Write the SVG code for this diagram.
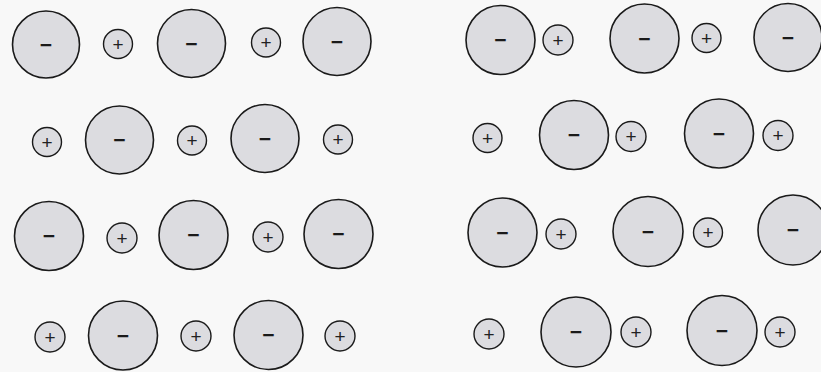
<svg xmlns="http://www.w3.org/2000/svg" width="821" height="372" viewBox="0 0 821 372">
<style>
.bg{fill:#f8f8f8}
.an circle{fill:#dcdce0;stroke:#1a1a1a;stroke-width:1.6}
.ca circle{fill:#dcdce0;stroke:#1a1a1a;stroke-width:1.4}
.an text{font-family:"Liberation Sans",Arial,sans-serif;font-size:21px;font-weight:bold;fill:#1a1a1a;text-anchor:middle}
.ca text{font-family:"Liberation Sans",Arial,sans-serif;font-size:19px;fill:#222;text-anchor:middle}
</style>
<rect class="bg" x="0" y="0" width="821" height="372"/>
<!-- Left lattice -->
<g id="a1" class="an"><circle cx="46" cy="44.5" r="33.5"/><text x="46" y="51.5">−</text></g>
<g id="c1" class="ca"><circle cx="118" cy="44" r="14.5"/><text x="118" y="50.5">+</text></g>
<g id="a2" class="an"><circle cx="191.5" cy="43.5" r="34"/><text x="191.5" y="50.5">−</text></g>
<g id="c2" class="ca"><circle cx="266" cy="42.5" r="14.5"/><text x="266" y="49">+</text></g>
<g id="a3" class="an"><circle cx="337" cy="41.5" r="34"/><text x="337" y="48.5">−</text></g>

<g id="c3" class="ca"><circle cx="47" cy="142" r="14.5"/><text x="47" y="148.5">+</text></g>
<g id="a4" class="an"><circle cx="119.5" cy="140" r="34"/><text x="119.5" y="147">−</text></g>
<g id="c4" class="ca"><circle cx="192" cy="140.5" r="14.5"/><text x="192" y="147">+</text></g>
<g id="a5" class="an"><circle cx="265" cy="138.5" r="34"/><text x="265" y="145.5">−</text></g>
<g id="c5" class="ca"><circle cx="338" cy="139.5" r="14.5"/><text x="338" y="146">+</text></g>

<g id="a6" class="an"><circle cx="49" cy="236" r="34.5"/><text x="49" y="243">−</text></g>
<g id="c6" class="ca"><circle cx="122" cy="238" r="15"/><text x="122" y="244.5">+</text></g>
<g id="a7" class="an"><circle cx="193.5" cy="235" r="34.5"/><text x="193.5" y="242">−</text></g>
<g id="c7" class="ca"><circle cx="268" cy="237" r="15"/><text x="268" y="243.5">+</text></g>
<g id="a8" class="an"><circle cx="338.5" cy="234" r="34.5"/><text x="338.5" y="241">−</text></g>

<g id="c8" class="ca"><circle cx="50" cy="337" r="15"/><text x="50" y="343.5">+</text></g>
<g id="a9" class="an"><circle cx="123" cy="335.5" r="34.5"/><text x="123" y="342.5">−</text></g>
<g id="c9" class="ca"><circle cx="196" cy="336" r="15"/><text x="196" y="342.5">+</text></g>
<g id="a10" class="an"><circle cx="268.5" cy="335" r="34.5"/><text x="268.5" y="342">−</text></g>
<g id="c10" class="ca"><circle cx="340" cy="336" r="15"/><text x="340" y="342.5">+</text></g>

<!-- Right lattice -->
<g id="a11" class="an"><circle cx="500.5" cy="40" r="34.5"/><text x="500.5" y="47">−</text></g>
<g id="c11" class="ca"><circle cx="558" cy="40" r="15"/><text x="558" y="46.5">+</text></g>
<g id="a12" class="an"><circle cx="644.5" cy="38.5" r="34.5"/><text x="644.5" y="45.5">−</text></g>
<g id="c12" class="ca"><circle cx="706.5" cy="38" r="14.5"/><text x="706.5" y="44.5">+</text></g>
<g id="a13" class="an"><circle cx="788" cy="37.5" r="34"/><text x="788" y="44.5">−</text></g>

<g id="c13" class="ca"><circle cx="487.5" cy="138" r="14.5"/><text x="487.5" y="144.5">+</text></g>
<g id="a14" class="an"><circle cx="574" cy="135" r="34.5"/><text x="574" y="142">−</text></g>
<g id="c14" class="ca"><circle cx="631" cy="136.5" r="15"/><text x="631" y="143">+</text></g>
<g id="a15" class="an"><circle cx="719" cy="133.5" r="34.5"/><text x="719" y="140.5">−</text></g>
<g id="c15" class="ca"><circle cx="778" cy="135.5" r="15"/><text x="778" y="142">+</text></g>

<g id="a16" class="an"><circle cx="502.5" cy="232.5" r="34.5"/><text x="502.5" y="239.5">−</text></g>
<g id="c16" class="ca"><circle cx="561" cy="234" r="15"/><text x="561" y="240.5">+</text></g>
<g id="a17" class="an"><circle cx="648" cy="231.5" r="35"/><text x="648" y="238.5">−</text></g>
<g id="c17" class="ca"><circle cx="708" cy="232.5" r="14.5"/><text x="708" y="239">+</text></g>
<g id="a18" class="an"><circle cx="793" cy="230" r="35"/><text x="793" y="237">−</text></g>

<g id="c18" class="ca"><circle cx="489" cy="334" r="15"/><text x="489" y="340.5">+</text></g>
<g id="a19" class="an"><circle cx="576" cy="332" r="35"/><text x="576" y="339">−</text></g>
<g id="c19" class="ca"><circle cx="636" cy="332" r="15"/><text x="636" y="338.5">+</text></g>
<g id="a20" class="an"><circle cx="722" cy="330.5" r="35"/><text x="722" y="337.5">−</text></g>
<g id="c20" class="ca"><circle cx="780" cy="332" r="15"/><text x="780" y="338.5">+</text></g>
</svg>
